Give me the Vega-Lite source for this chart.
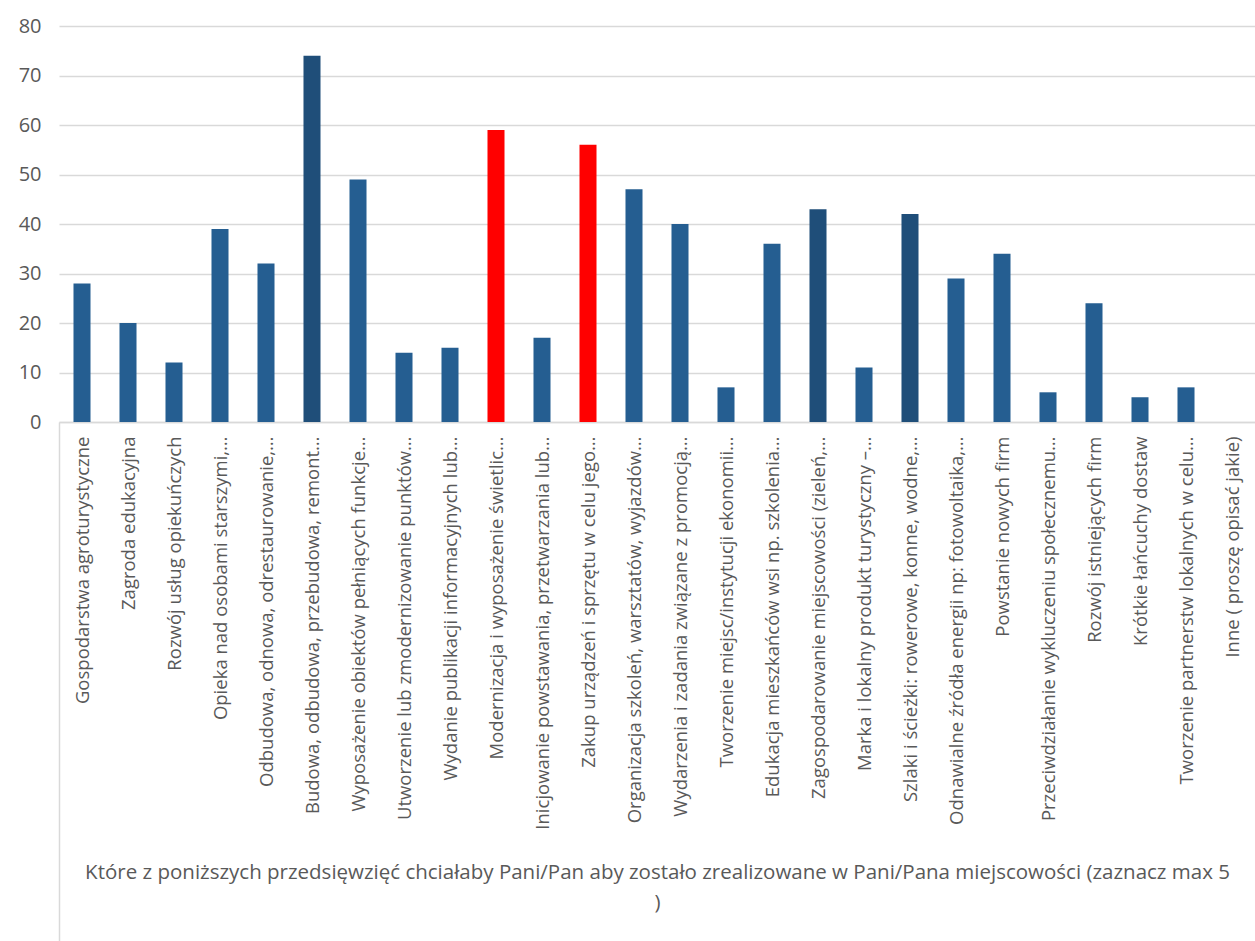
{
  "$schema": "https://vega.github.io/schema/vega-lite/v6.json",
  "width": 1196,
  "height": 396,
  "autosize": {"type": "none"},
  "padding": {"left": 59, "top": 26, "right": 0, "bottom": 519},
  "background": "white",
  "config": {"view": {"stroke": null}, "font": "Open Sans"},
  "data": {"values": [
    {"k": "Gospodarstwa agroturystyczne", "v": 28, "g": "a"},
    {"k": "Zagroda edukacyjna", "v": 20, "g": "a"},
    {"k": "Rozwój usług opiekuńczych", "v": 12, "g": "a"},
    {"k": "Opieka nad osobami starszymi,…", "v": 39, "g": "a"},
    {"k": "Odbudowa, odnowa, odrestaurowanie,…", "v": 32, "g": "a"},
    {"k": "Budowa, odbudowa, przebudowa, remont…", "v": 74, "g": "b"},
    {"k": "Wyposażenie obiektów pełniących funkcje…", "v": 49, "g": "a"},
    {"k": "Utworzenie lub zmodernizowanie punktów…", "v": 14, "g": "a"},
    {"k": "Wydanie publikacji informacyjnych lub…", "v": 15, "g": "a"},
    {"k": "Modernizacja i wyposażenie świetlic…", "v": 59, "g": "c"},
    {"k": "Inicjowanie powstawania, przetwarzania lub…", "v": 17, "g": "a"},
    {"k": "Zakup urządzeń i sprzętu  w celu jego…", "v": 56, "g": "c"},
    {"k": "Organizacja szkoleń, warsztatów, wyjazdów…", "v": 47, "g": "a"},
    {"k": "Wydarzenia i zadania związane z promocją…", "v": 40, "g": "a"},
    {"k": "Tworzenie miejsc/instytucji ekonomii…", "v": 7, "g": "a"},
    {"k": "Edukacja mieszkańców wsi np. szkolenia…", "v": 36, "g": "a"},
    {"k": "Zagospodarowanie miejscowości (zieleń,…", "v": 43, "g": "b"},
    {"k": "Marka i lokalny produkt turystyczny –…", "v": 11, "g": "a"},
    {"k": "Szlaki i ścieżki: rowerowe, konne, wodne,…", "v": 42, "g": "b"},
    {"k": "Odnawialne źródła energii np: fotowoltaika,…", "v": 29, "g": "a"},
    {"k": "Powstanie nowych firm", "v": 34, "g": "a"},
    {"k": "Przeciwdziałanie wykluczeniu społecznemu…", "v": 6, "g": "a"},
    {"k": "Rozwój istniejących firm", "v": 24, "g": "a"},
    {"k": "Krótkie łańcuchy dostaw", "v": 5, "g": "a"},
    {"k": "Tworzenie partnerstw lokalnych w celu…", "v": 7, "g": "a"},
    {"k": "Inne ( proszę opisać jakie)", "v": 0, "g": "a"}
  ]},
  "mark": {"type": "bar"},
  "encoding": {
    "x": {
      "field": "k", "type": "nominal", "sort": null,
      "scale": {"paddingInner": 0.63, "paddingOuter": 0.315},
      "axis": {
        "title": ["Które z poniższych przedsięwzięć chciałaby Pani/Pan aby zostało zrealizowane w Pani/Pana miejscowości (zaznacz max 5", ")"],
        "titleFont": "Open Sans", "titleFontSize": 20.5, "titleFontWeight": "normal", "titleColor": "#595959",
        "titleY": 440, "titleBaseline": "top", "titleLineHeight": 30,
        "labelAngle": -90, "labelFontSize": 18.5, "labelColor": "#595959", "labelLimit": 500,
        "labelPadding": -505,
        "ticks": true, "tickSize": 519, "tickColor": "#D9D9D9", "tickWidth": 1.5,
        "tickOffset": -23, "labelOffset": 23,
        "tickOpacity": {"condition": {"test": "datum.value === 'Gospodarstwa agroturystyczne'", "value": 1}, "value": 0},
        "domainColor": "#D9D9D9", "domainWidth": 1.5
      }
    },
    "y": {
      "field": "v", "type": "quantitative",
      "scale": {"domain": [0, 80]},
      "axis": {
        "title": null, "values": [0, 10, 20, 30, 40, 50, 60, 70, 80],
        "domain": false, "ticks": false, "labelFontSize": 20, "labelColor": "#595959",
        "labelPadding": 18, "gridColor": "#D9D9D9", "gridWidth": 1.5
      }
    },
    "color": {
      "field": "g", "type": "nominal", "legend": null,
      "scale": {"domain": ["a", "b", "c"], "range": ["#255E91", "#1F4E79", "#FF0000"]}
    }
  }
}
